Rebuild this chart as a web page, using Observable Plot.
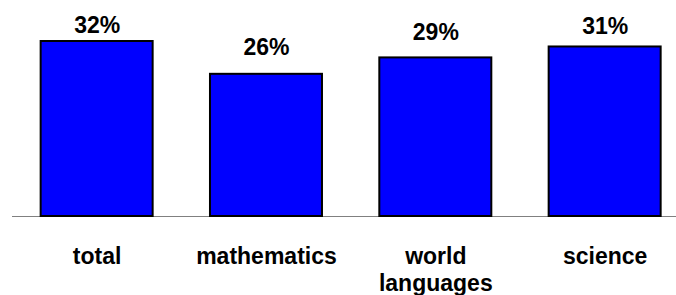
<!DOCTYPE html>
<html>
<head>
<meta charset="utf-8">
<script src="https://cdn.jsdelivr.net/npm/d3@7"></script>
<script src="https://cdn.jsdelivr.net/npm/@observablehq/plot@0.6"></script>
<style>
  html, body { margin: 0; padding: 0; background: #ffffff; }
  #chart { width: 676px; height: 295px; }
</style>
</head>
<body>
<div id="chart"></div>
<script>
// Data
const categories = ["total", "mathematics", "world\nlanguages", "science"];
const values = [32, 26, 29, 31];
const valueLabels = ["32%", "26%", "29%", "31%"];

const data = categories.map((c, i) => ({category: c, value: values[i], label: valueLabels[i]}));

// per-label vertical nudge (layout only, as placed in the original)
const labelNudge = [-8.7, -19.5, -18.1, -13.2];

const chart = Plot.plot({
  width: 676,
  height: 295,
  marginTop: 41,
  marginBottom: 79,
  marginLeft: 12,
  marginRight: 0,
  style: {
    fontFamily: "'Liberation Sans', Arial, Helvetica, sans-serif",
    fontWeight: "bold",
    background: "#ffffff",
    color: "#000000"
  },
  x: {
    type: "band",
    domain: categories,
    range: [40.65, 660.65],
    paddingInner: 0.3386,
    paddingOuter: 0,
    round: false,
    axis: null
  },
  y: {
    domain: [0, 32],
    axis: null
  },
  marks: [
    Plot.ruleY([0], {stroke: "#808080", strokeWidth: 1}),
    Plot.barY(data, {x: "category", y: "value", fill: "#0000ff", stroke: "#000000", strokeWidth: 2}),
    ...data.map((d, i) => Plot.text([d], {
      x: "category",
      y: "value",
      text: "label",
      lineAnchor: "bottom",
      dy: labelNudge[i],
      fontSize: 23,
      fontWeight: "bold",
      fill: "#000000"
    })),
    Plot.axisX({
      tickSize: 0,
      tickPadding: 29,
      fontSize: 23,
      fontWeight: "bold",
      lineHeight: 1.16,
      label: null,
      fill: "#000000"
    })
  ]
});

document.getElementById("chart").appendChild(chart);
</script>
</body>
</html>
